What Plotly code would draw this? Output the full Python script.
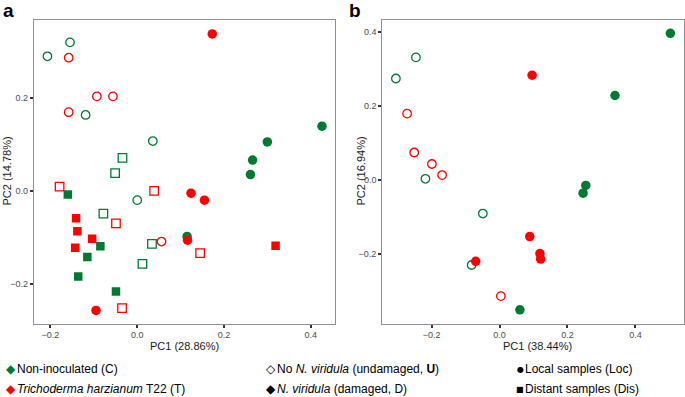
import plotly.graph_objects as go

GREEN = "#007A33"
RED = "#FF0000"

# ---------------- Panel a (local + distant samples) ----------------
a_CU_loc_x = [-0.207, -0.155, -0.119, 0.036, 0.000]
a_CU_loc_y = [0.289, 0.319, 0.163, 0.107, -0.020]
a_TU_loc_x = [-0.158, -0.093, -0.056, -0.158, 0.056]
a_TU_loc_y = [0.286, 0.203, 0.203, 0.169, -0.109]
a_CD_loc_x = [0.426, 0.300, 0.266, 0.261, 0.115]
a_CD_loc_y = [0.139, 0.105, 0.066, 0.035, -0.098]
a_TD_loc_x = [0.173, 0.124, 0.155, -0.095, 0.116]
a_TD_loc_y = [0.337, -0.005, -0.020, -0.257, -0.106]
a_CU_dis_x = [-0.034, -0.051, -0.078, 0.034, 0.012]
a_CU_dis_y = [0.071, 0.038, -0.049, -0.114, -0.157]
a_TU_dis_x = [-0.179, 0.039, -0.049, -0.035, 0.145]
a_TU_dis_y = [0.009, 0.000, -0.070, -0.252, -0.134]
a_CD_dis_x = [-0.160, -0.085, -0.115, -0.136, -0.049]
a_CD_dis_y = [-0.008, -0.119, -0.142, -0.184, -0.216]
a_TD_dis_x = [-0.141, -0.138, -0.104, -0.143, 0.319]
a_TD_dis_y = [-0.059, -0.087, -0.103, -0.122, -0.118]

# ---------------- Panel b (local samples) ----------------
b_CU_x = [-0.246, -0.305, -0.218, -0.049, -0.082]
b_CU_y = [0.331, 0.274, 0.003, -0.091, -0.230]
b_TU_x = [-0.272, -0.251, -0.199, -0.169, 0.004]
b_TU_y = [0.179, 0.074, 0.043, 0.013, -0.314]
b_CD_x = [0.503, 0.340, 0.254, 0.246, 0.060]
b_CD_y = [0.396, 0.228, -0.015, -0.036, -0.351]
b_TD_x = [0.096, 0.089, 0.119, 0.121, -0.070]
b_TD_y = [0.283, -0.153, -0.199, -0.214, -0.220]

a_xticks = [-0.2, 0.0, 0.2, 0.4]
a_yticks = [-0.2, 0.0, 0.2]
b_xticks = [-0.2, 0.0, 0.2, 0.4]
b_yticks = [-0.2, 0.0, 0.2, 0.4]

a_xtitle = "PC1 (28.86%)"
a_ytitle = "PC2 (14.78%)"
b_xtitle = "PC1 (38.44%)"
b_ytitle = "PC2 (16.94%)"

fig = go.Figure()

CIRC = 9.5
SQ = 8.5
LW = 1.3


def add(x, y, color, symbol, size, xa, ya):
    open_ = symbol.endswith("-open")
    fig.add_trace(go.Scatter(
        x=x, y=y, mode="markers", xaxis=xa, yaxis=ya, showlegend=False,
        marker=dict(symbol=symbol, size=size, color=color,
                    line=dict(width=LW if open_ else 0, color=color)),
        hoverinfo="x+y"))


# panel a
add(a_CU_dis_x, a_CU_dis_y, GREEN, "square-open", SQ, "x", "y")
add(a_TU_dis_x, a_TU_dis_y, RED, "square-open", SQ, "x", "y")
add(a_CD_dis_x, a_CD_dis_y, GREEN, "square", SQ, "x", "y")
add(a_TD_dis_x, a_TD_dis_y, RED, "square", SQ, "x", "y")
add(a_CU_loc_x, a_CU_loc_y, GREEN, "circle-open", CIRC - 1, "x", "y")
add(a_TU_loc_x, a_TU_loc_y, RED, "circle-open", CIRC - 1, "x", "y")
add(a_CD_loc_x, a_CD_loc_y, GREEN, "circle", CIRC, "x", "y")
add(a_TD_loc_x, a_TD_loc_y, RED, "circle", CIRC, "x", "y")

# panel b
add(b_CU_x, b_CU_y, GREEN, "circle-open", CIRC - 1, "x2", "y2")
add(b_TU_x, b_TU_y, RED, "circle-open", CIRC - 1, "x2", "y2")
add(b_CD_x, b_CD_y, GREEN, "circle", CIRC, "x2", "y2")
add(b_TD_x, b_TD_y, RED, "circle", CIRC, "x2", "y2")

W, H = 685, 397
FONT = "Liberation Sans, Arial, sans-serif"
TICKFONT = dict(family=FONT, size=9, color="#4D4D4D")

ydom = [1 - 323.5 / H, 1 - 20 / H]

axis_common = dict(showgrid=False, zeroline=False, showline=True, mirror=True,
                   linecolor="#8F8F8F", linewidth=1.2, ticks="outside",
                   ticklen=3, tickwidth=1.5, tickcolor="#333333",
                   tickfont=TICKFONT, tickformat=".1f")

fig.update_layout(
    width=W, height=H, margin=dict(l=0, r=0, t=0, b=0),
    paper_bgcolor="white", plot_bgcolor="white",
    font=dict(family=FONT, color="black"),
    showlegend=False,
    xaxis=dict(domain=[34 / W, 335 / W], range=[-0.238, 0.456],
               tickvals=a_xticks, anchor="y", **axis_common),
    yaxis=dict(domain=ydom, range=[-0.285, 0.367], tickvals=a_yticks,
               anchor="x", **axis_common),
    xaxis2=dict(domain=[382.3 / W, 684.3 / W], range=[-0.345, 0.544],
                tickvals=b_xticks, anchor="y2", **axis_common),
    yaxis2=dict(domain=ydom, range=[-0.388, 0.432], tickvals=b_yticks,
                anchor="x2", **axis_common),
)

annotations = []


def txt_ann(text, x, y, size, xanchor="center", yanchor="middle", angle=0,
            family=FONT, color="black"):
    annotations.append(dict(text=text, x=x / W, y=1 - y / H, xref="paper", yref="paper",
                            xanchor=xanchor, yanchor=yanchor, showarrow=False,
                            textangle=angle, borderpad=0,
                            font=dict(family=family, size=size, color=color)))


# axis titles
txt_ann(a_xtitle, 184.5, 345.5, 11, color="#1A1A1A")
txt_ann(b_xtitle, 537, 345.5, 11, color="#1A1A1A")
txt_ann(a_ytitle, 6.5, 171, 11, angle=-90, color="#1A1A1A")
txt_ann(b_ytitle, 360.5, 171, 11, angle=-90, color="#1A1A1A")

# panel labels
txt_ann("<b>a</b>", 2, 10, 19, xanchor="left")
txt_ann("<b>b</b>", 348, 10, 19, xanchor="left")

# legend (three columns, two rows)
legend_items = [
    (11, 369, "\u25C6", GREEN, 16, "Non-inoculated (C)"),
    (11, 389, "\u25C6", RED, 16, "<i>Trichoderma harzianum</i> T22 (T)"),
    (271, 369, "\u25C7", "black", 276, "No <i>N. viridula</i> (undamaged, <b>U</b>)"),
    (271, 389, "\u25C6", "black", 276, "<i>N. viridula</i> (damaged, D)"),
    (520, 369, "\u25CF", "black", 524, "Local samples (Loc)"),
    (520, 389, "\u25A0", "black", 524, "Distant samples (Dis)"),
]
for sx, sy, sym, col, tx, txt in legend_items:
    fsz = 12 if sym in ("\u25C6", "\u25C7") else 8
    txt_ann(sym, sx, sy, fsz, family="DejaVu Sans", color=col)
    txt_ann(txt, tx, sy, 12, xanchor="left")

fig.update_layout(annotations=annotations)

fig.write_html("out.html", config={"displayModeBar": False},
               post_script="document.body.style.margin='0px';")
